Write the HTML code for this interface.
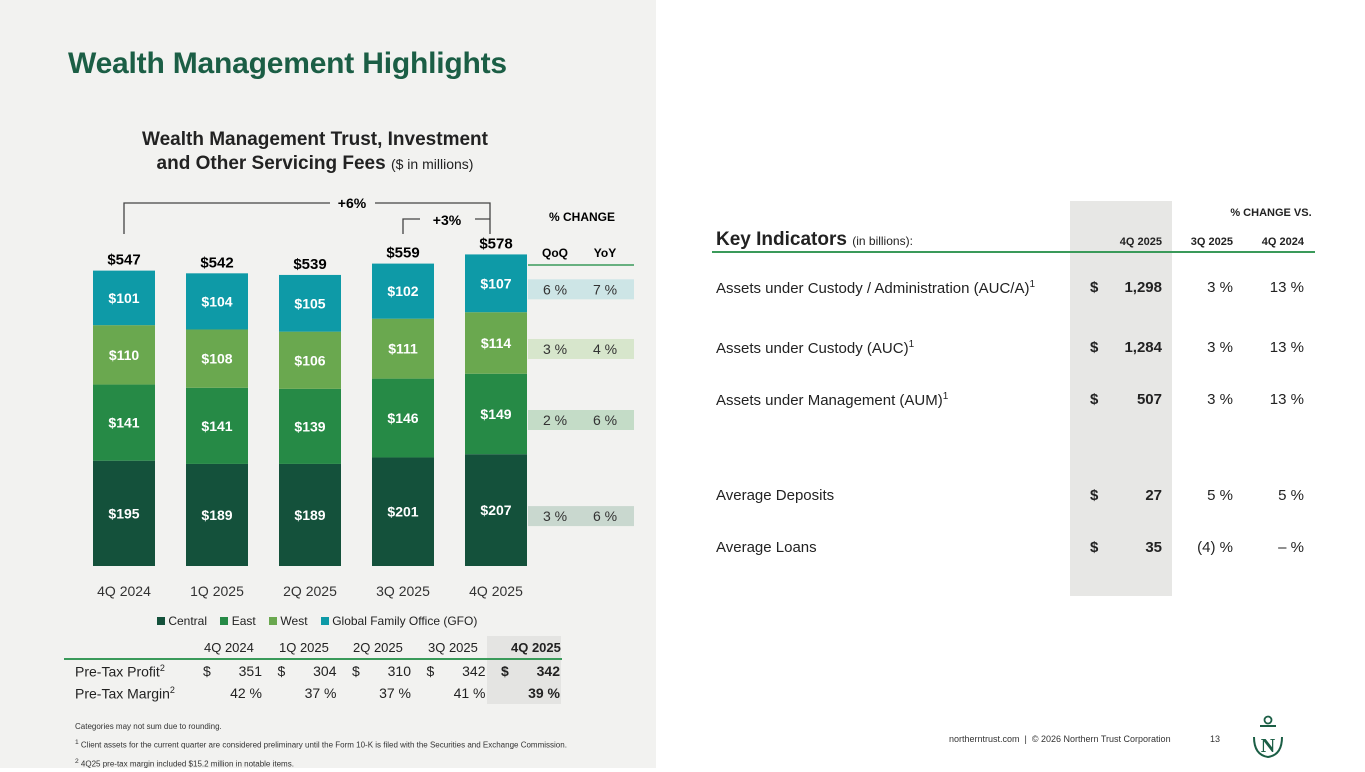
<!DOCTYPE html>
<html><head><meta charset="utf-8">
<style>
*{margin:0;padding:0;box-sizing:border-box}
body{width:1365px;height:768px;position:relative;background:#fff;font-family:"Liberation Sans",sans-serif;overflow:hidden;color:#222}
.abs{position:absolute}
#left{left:0;top:0;width:656px;height:768px;background:#f2f2f0}
.t{position:absolute;white-space:nowrap}
.bold{font-weight:bold}
.r{text-align:right}
</style></head><body>
<div id="left" class="abs"></div>
<div class="t bold" style="left:68px;top:47px;font-size:30px;color:#1b5e45;letter-spacing:-0.2px">Wealth Management Highlights</div>
<div class="t bold" style="left:100px;top:128px;width:430px;text-align:center;font-size:19px;line-height:24px;color:#222">Wealth Management Trust, Investment<br>and Other Servicing Fees <span style="font-weight:normal;font-size:14px">($ in millions)</span></div>

<svg class="abs" style="left:0;top:0" width="660" height="640" id="chart">
 <path d="M124 234 V203 H330 M375 203 H490 V234" stroke="#444" stroke-width="1.3" fill="none"/>
 <text x="352" y="208" font-size="14" font-weight="bold" text-anchor="middle" font-family="Liberation Sans">+6%</text>
 <path d="M403 234 V219 H420 M475 219 H490" stroke="#444" stroke-width="1.3" fill="none"/>
 <text x="447" y="225" font-size="14" font-weight="bold" text-anchor="middle" font-family="Liberation Sans">+3%</text>
 <text x="582" y="221" font-size="12" font-weight="bold" text-anchor="middle" font-family="Liberation Sans">% CHANGE</text>
 <text x="555" y="257" font-size="12" font-weight="bold" text-anchor="middle" font-family="Liberation Sans">QoQ</text>
 <text x="605" y="257" font-size="12" font-weight="bold" text-anchor="middle" font-family="Liberation Sans">YoY</text>
 <line x1="528" y1="265" x2="634" y2="265" stroke="#3a9a5a" stroke-width="1.5"/>
 <g id="bars"></g>
 <g id="chg"></g>
</svg>

<div class="t" style="left:157px;top:614px;font-size:12px">
 <span><span style="display:inline-block;width:8px;height:8px;background:#14513b"></span> Central</span>&nbsp;&nbsp;&nbsp;
 <span><span style="display:inline-block;width:8px;height:8px;background:#268a46"></span> East</span>&nbsp;&nbsp;&nbsp;
 <span><span style="display:inline-block;width:8px;height:8px;background:#6aa84f"></span> West</span>&nbsp;&nbsp;&nbsp;
 <span><span style="display:inline-block;width:8px;height:8px;background:#0e9aa7"></span> Global Family Office (GFO)</span>
</div>

<div class="abs" style="left:487px;top:636px;width:74px;height:68px;background:#e4e4e2"></div>
<div class="abs" style="left:64px;top:658px;width:498px;height:2px;background:#3a9a5a"></div>
<div>
 <div class="t" style="left:196px;top:640px;font-size:13px;word-spacing:0">
  <span class="t" style="left:8px">4Q 2024</span><span class="t" style="left:83px">1Q 2025</span><span class="t" style="left:157px">2Q 2025</span><span class="t" style="left:232px">3Q 2025</span><span class="t bold" style="left:315px">4Q 2025</span>
 </div>
 <div class="t" style="left:75px;top:663px;font-size:14px">Pre-Tax Profit<sup style="font-size:9px">2</sup></div>
 <div class="t" style="left:75px;top:685px;font-size:14px">Pre-Tax Margin<sup style="font-size:9px">2</sup></div>
 <div id="ptrows"></div>
</div>

<div class="t" style="left:75px;top:719px;font-size:8px;line-height:16px;color:#333">Categories may not sum due to rounding.<br><sup>1</sup> Client assets for the current quarter are considered preliminary until the Form 10-K is filed with the Securities and Exchange Commission.<br><sup>2</sup> 4Q25 pre-tax margin included $15.2 million in notable items.</div>

<div class="abs" style="left:1070px;top:201px;width:102px;height:395px;background:#e7e7e5"></div>
<div class="t bold" style="left:1201px;top:207px;font-size:11px;width:140px;text-align:center">% CHANGE VS.</div>
<div class="t" style="left:716px;top:229px;font-size:19px;font-weight:bold">Key Indicators <span style="font-size:12px;font-weight:normal">(in billions):</span></div>
<div class="t bold r" style="left:1080px;top:236px;width:82px;font-size:11px">4Q 2025</div>
<div class="t bold r" style="left:1170px;top:236px;width:63px;font-size:11px">3Q 2025</div>
<div class="t bold r" style="left:1240px;top:236px;width:64px;font-size:11px">4Q 2024</div>
<div class="abs" style="left:712px;top:251px;width:603px;height:2px;background:#3a9a5a"></div>
<div id="kirows"></div>

<div class="t" style="left:949px;top:734px;font-size:9px;color:#333">northerntrust.com &nbsp;|&nbsp; © 2026 Northern Trust Corporation</div>
<div class="t" style="left:1210px;top:734px;font-size:9px;color:#333">13</div>
<svg class="abs" style="left:1250px;top:715px" width="36" height="46">
 <circle cx="18" cy="5" r="3.5" fill="none" stroke="#1b5e45" stroke-width="1.8"/>
 <line x1="10" y1="11" x2="26" y2="11" stroke="#1b5e45" stroke-width="2"/>
 <path d="M4 22 Q4 40 18 42 Q32 40 32 22" fill="none" stroke="#1b5e45" stroke-width="2"/>
 <text x="18" y="37" font-size="20" font-weight="bold" text-anchor="middle" fill="#1b5e45" font-family="Liberation Serif">N</text>
</svg>

<script>
const quarters=["4Q 2024","1Q 2025","2Q 2025","3Q 2025","4Q 2025"];
const central=[195,189,189,201,207];
const east=[141,141,139,146,149];
const west=[110,108,106,111,114];
const gfo=[101,104,105,102,107];
const totals=[547,542,539,559,578];
const qoq=["6 %","3 %","2 %","3 %"];
const yoy=["7 %","4 %","6 %","6 %"];
const profit=["351","304","310","342","342"];
const margin=["42 %","37 %","37 %","41 %","39 %"];
const kiLabels=["Assets under Custody / Administration (AUC/A)","Assets under Custody (AUC)","Assets under Management (AUM)","Average Deposits","Average Loans"];
const kiSup=[true,true,true,false,false];
const kiValues=["1,298","1,284","507","27","35"];
const kiQoq=["3 %","3 %","3 %","5 %","(4) %"];
const kiYoy=["13 %","13 %","13 %","5 %","–  %"];

const NS="http://www.w3.org/2000/svg";
const base=566, scale=0.54, bw=62;
const x=i=>93+i*93;
const y=v=>base-v*scale;
const g=document.getElementById('bars');
const series=[["central",central,"#14513b"],["east",east,"#268a46"],["west",west,"#6aa84f"],["gfo",gfo,"#0e9aa7"]];
const segMid=[];
quarters.forEach((q,i)=>{
  let cum=0;
  series.forEach(([nm,arr,col],k)=>{
    const y0=y(cum), y1=y(cum+arr[i]);
    const r=document.createElementNS(NS,'rect');
    r.setAttribute('x',x(i));r.setAttribute('y',y1);r.setAttribute('width',bw);r.setAttribute('height',y0-y1);r.setAttribute('fill',col);
    
    
    g.appendChild(r);
    const t=document.createElementNS(NS,'text');
    t.setAttribute('x',x(i)+bw/2);t.setAttribute('y',(y0+y1)/2+5);t.setAttribute('text-anchor','middle');
    t.setAttribute('font-size','14');t.setAttribute('font-weight','bold');t.setAttribute('fill','#fff');t.setAttribute('font-family','Liberation Sans');
    t.textContent='$'+arr[i];
    
    
    g.appendChild(t);
    if(i===4) segMid[k]=(y0+y1)/2;
    cum+=arr[i];
  });
  const tt=document.createElementNS(NS,'text');
  tt.setAttribute('x',x(i)+bw/2);tt.setAttribute('y',y(cum)-6);tt.setAttribute('text-anchor','middle');
  tt.setAttribute('font-size','15');tt.setAttribute('font-weight','bold');tt.setAttribute('font-family','Liberation Sans');
  tt.textContent='$'+totals[i];
  
  
  g.appendChild(tt);
  const xl=document.createElementNS(NS,'text');
  xl.setAttribute('x',x(i)+bw/2);xl.setAttribute('y',596);xl.setAttribute('text-anchor','middle');
  xl.setAttribute('font-size','14');xl.setAttribute('fill','#333');xl.setAttribute('font-family','Liberation Sans');
  xl.textContent=q;
  
  
  g.appendChild(xl);
});
const c=document.getElementById('chg');
const order=[3,2,1,0];
[0,1,2,3].forEach(j=>{
  const k=order[j];
  const cy=segMid[k]+6;
  const r=document.createElementNS(NS,'rect');
  r.setAttribute('x',528);r.setAttribute('y',cy-10);r.setAttribute('width',106);r.setAttribute('height',20);
  r.setAttribute('fill',["#cde5e6","#d7e6cc","#c4dcc7","#c9d8cf"][j]);
  
  
  c.appendChild(r);
  [[555,qoq[j]],[605,yoy[j]]].forEach(([xx,v])=>{
    const t=document.createElementNS(NS,'text');
    t.setAttribute('x',xx);t.setAttribute('y',cy+5);t.setAttribute('text-anchor','middle');
    t.setAttribute('font-size','14');t.setAttribute('font-family','Liberation Sans');t.setAttribute('fill','#333');
    t.textContent=v;
    
    
    c.appendChild(t);
  });
});
const pt=document.getElementById('ptrows');
quarters.forEach((q,i)=>{
  const bx=203+i*74.5, last=i===4;
  const d1=document.createElement('div');d1.className='t';d1.style.cssText=`left:${bx}px;top:663px;font-size:14px;${last?'font-weight:bold':''}`;d1.textContent='$';
  
  
  pt.appendChild(d1);
  const d2=document.createElement('div');d2.className='t r';d2.style.cssText=`left:${bx+10}px;width:49px;top:663px;font-size:14px;${last?'font-weight:bold':''}`;d2.textContent=profit[i];
  
  
  pt.appendChild(d2);
  const d3=document.createElement('div');d3.className='t r';d3.style.cssText=`left:${bx}px;width:59px;top:685px;font-size:14px;${last?'font-weight:bold':''}`;d3.textContent=margin[i];
  
  
  pt.appendChild(d3);
});
const ki=document.getElementById('kirows');
const kiY=[279,339,391,487,539];
kiLabels.forEach((l,i)=>{
  const d=document.createElement('div');d.className='t';d.style.cssText=`left:716px;top:${kiY[i]}px;font-size:15px`;
  d.innerHTML=l+(kiSup[i]?'<sup style="font-size:10px">1</sup>':'');
  
  
  ki.appendChild(d);
  const s=document.createElement('div');s.className='t bold';s.style.cssText=`left:1090px;top:${kiY[i]}px;font-size:15px`;s.textContent='$';
  
  
  ki.appendChild(s);
  const v=document.createElement('div');v.className='t bold r';v.style.cssText=`left:1100px;width:62px;top:${kiY[i]}px;font-size:15px`;v.textContent=kiValues[i];
  
  
  ki.appendChild(v);
  const a=document.createElement('div');a.className='t r';a.style.cssText=`left:1160px;width:73px;top:${kiY[i]}px;font-size:15px`;a.textContent=kiQoq[i];
  
  
  ki.appendChild(a);
  const b=document.createElement('div');b.className='t r';b.style.cssText=`left:1240px;width:64px;top:${kiY[i]}px;font-size:15px`;b.textContent=kiYoy[i];
  
  
  ki.appendChild(b);
});
</script>
</body></html>
